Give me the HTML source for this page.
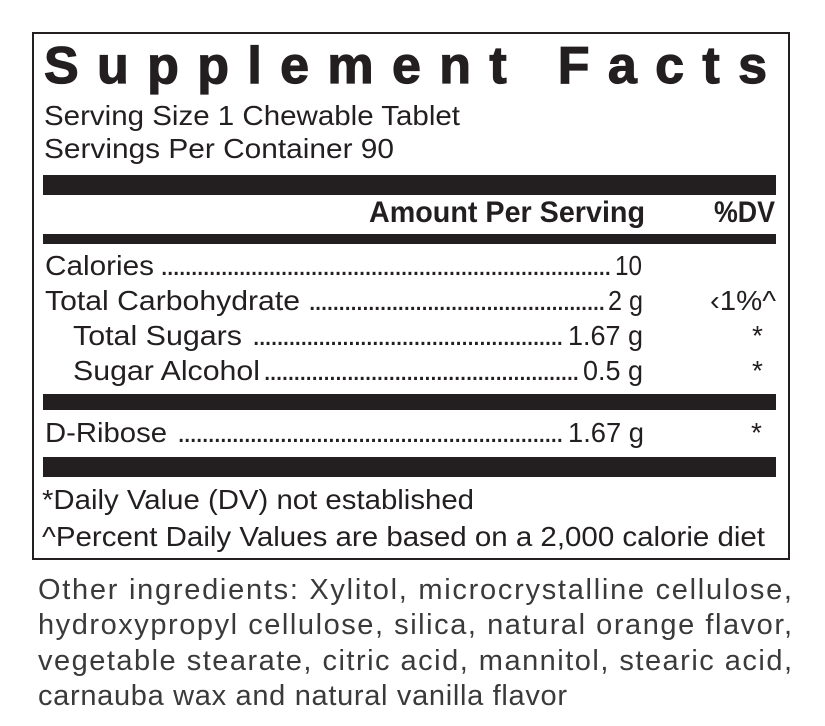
<!DOCTYPE html>
<html>
<head>
<meta charset="utf-8">
<style>
  html,body{margin:0;padding:0;background:#fff;}
  svg{display:block;}
  text{font-family:"Liberation Sans", sans-serif;fill:#231f20;}
  .b{font-weight:bold;}
  .r{font-size:28px;}
  .d{font-size:30px;}
  .o{font-size:29px;fill:#3a3a3a;}
</style>
</head>
<body>
<svg width="825" height="726" viewBox="0 0 825 726" xmlns="http://www.w3.org/2000/svg">
  <rect x="0" y="0" width="825" height="726" fill="#fff"/>
  <!-- outer box -->
  <rect x="33" y="33" width="756" height="526" fill="none" stroke="#231f20" stroke-width="2"/>

  <!-- title -->
  <text class="b" x="44" y="83" font-size="52" textLength="723" lengthAdjust="spacing" stroke="#231f20" stroke-width="1.2">Supplement Facts</text>

  <text class="r" x="44" y="125" textLength="416" lengthAdjust="spacingAndGlyphs">Serving Size 1 Chewable Tablet</text>
  <text class="r" x="44" y="158" textLength="350" lengthAdjust="spacingAndGlyphs">Servings Per Container 90</text>

  <!-- bars -->
  <rect x="43" y="175" width="733" height="20" fill="#231f20"/>
  <text class="b" x="369" y="222" font-size="30" textLength="276" lengthAdjust="spacingAndGlyphs">Amount Per Serving</text>
  <text class="b" x="714" y="222" font-size="30" textLength="61" lengthAdjust="spacingAndGlyphs">%DV</text>
  <rect x="43" y="234" width="733" height="10" fill="#231f20"/>

  <!-- Calories -->
  <text class="r" x="45" y="275" textLength="109" lengthAdjust="spacingAndGlyphs">Calories</text>
  <text class="d" x="160" y="275" textLength="452" lengthAdjust="spacing">...........................................................................</text>
  <text class="r" x="615" y="275" textLength="27" lengthAdjust="spacingAndGlyphs">10</text>

  <!-- Total Carbohydrate -->
  <text class="r" x="45" y="310" textLength="255" lengthAdjust="spacingAndGlyphs">Total Carbohydrate</text>
  <text class="d" x="308" y="310" textLength="298" lengthAdjust="spacing">..................................................</text>
  <text class="r" x="608" y="310" textLength="35" lengthAdjust="spacingAndGlyphs">2 g</text>
  <text class="r" x="710" y="310" textLength="66" lengthAdjust="spacingAndGlyphs">‹1%^</text>

  <!-- Total Sugars -->
  <text class="r" x="73" y="345" textLength="169" lengthAdjust="spacingAndGlyphs">Total Sugars</text>
  <text class="d" x="252" y="345" textLength="312" lengthAdjust="spacing">....................................................</text>
  <text class="r" x="568" y="345" textLength="75" lengthAdjust="spacingAndGlyphs">1.67 g</text>
  <text class="r" x="752" y="345">*</text>

  <!-- Sugar Alcohol -->
  <text class="r" x="73" y="380" textLength="187" lengthAdjust="spacingAndGlyphs">Sugar Alcohol</text>
  <text class="d" x="263" y="380" textLength="317" lengthAdjust="spacing">.....................................................</text>
  <text class="r" x="583" y="380" textLength="60" lengthAdjust="spacingAndGlyphs">0.5 g</text>
  <text class="r" x="752" y="380">*</text>

  <rect x="43" y="394" width="733" height="16" fill="#231f20"/>

  <!-- D-Ribose -->
  <text class="r" x="45" y="442" textLength="122" lengthAdjust="spacingAndGlyphs">D-Ribose</text>
  <text class="d" x="177" y="442" textLength="387" lengthAdjust="spacing">................................................................</text>
  <text class="r" x="568" y="442" textLength="76" lengthAdjust="spacingAndGlyphs">1.67 g</text>
  <text class="r" x="751" y="442">*</text>

  <rect x="43" y="457" width="733" height="20" fill="#231f20"/>

  <text class="r" x="42" y="509" textLength="432" lengthAdjust="spacingAndGlyphs">*Daily Value (DV) not established</text>
  <text class="r" x="42" y="546" textLength="723" lengthAdjust="spacingAndGlyphs">^Percent Daily Values are based on a 2,000 calorie diet</text>

  <!-- other ingredients -->
  <text class="o" x="38" y="599" textLength="754" lengthAdjust="spacing">Other ingredients: Xylitol, microcrystalline cellulose,</text>
  <text class="o" x="38" y="634" textLength="754" lengthAdjust="spacing">hydroxypropyl cellulose, silica, natural orange flavor,</text>
  <text class="o" x="38" y="670" textLength="754" lengthAdjust="spacing">vegetable stearate, citric acid, mannitol, stearic acid,</text>
  <text class="o" x="38" y="705" textLength="529" lengthAdjust="spacing">carnauba wax and natural vanilla flavor</text>
</svg>
</body>
</html>
